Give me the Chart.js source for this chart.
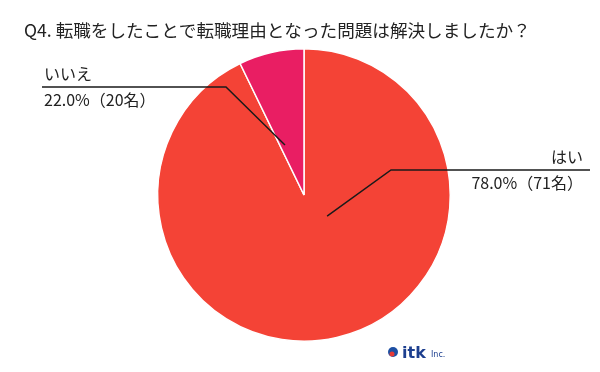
<!DOCTYPE html>
<html>
<head>
<meta charset="utf-8">
<script src="https://cdn.jsdelivr.net/npm/chart.js@4.4.1/dist/chart.umd.min.js"></script>
<style>
  html, body { margin: 0; padding: 0; background: #fff; }
  #wrap { width: 600px; height: 372px; }
</style>
</head>
<body>
<div id="wrap"><canvas id="pie-chart" width="600" height="372"></canvas></div>
<script>
var titleText = 'Q4. 転職をしたことで転職理由となった問題は解決しましたか？';
var categories = ['はい', 'いいえ'];
var counts = [71, 20];
var percents = [78.0, 22.0];
// arc sizes as they are drawn in the picture (they don't follow the labels)
var sliceShares = [92.8, 7.2];
var sliceColors = ['#F44336', '#E91E63'];

var jpFont = '"Noto Sans CJK JP", "Noto Sans", sans-serif';

// leader line: anchor inside the slice (fraction of radius from centre), bend point, end of the shelf
var leaders = [
    { ax: 0.158, ay: 0.144, bx: 391, by: 170, ex: 590, textX: 583, align: 'right' },
    { ax: -0.13, ay: -0.342, bx: 226, by: 87, ex: 42, textX: 44, align: 'left' }
];

var labelPlugin = {
    id: 'labelPlugin',
    afterDraw: function (chart) {
        var ctx = chart.ctx;
        ctx.save();

        // title
        ctx.fillStyle = '#222';
        ctx.font = '17.6px ' + jpFont;
        ctx.textAlign = 'left';
        ctx.textBaseline = 'middle';
        ctx.fillText(titleText, 24, 30);

        var meta = chart.getDatasetMeta(0);
        meta.data.forEach(function (arc, i) {
            var l = leaders[i];
            var r = arc.outerRadius;
            var sx = arc.x + l.ax * r;
            var sy = arc.y + l.ay * r;

            ctx.strokeStyle = '#1a1a1a';
            ctx.lineWidth = 1.5;
            ctx.beginPath();
            ctx.moveTo(sx, sy);
            ctx.lineTo(l.bx, l.by);
            ctx.lineTo(l.ex, l.by);
            ctx.stroke();

            ctx.fillStyle = '#222';
            ctx.font = '16px ' + jpFont;
            ctx.textAlign = l.align;
            ctx.fillText(categories[i], l.textX, l.by - 13);
            ctx.fillText(percents[i].toFixed(1) + '%（' + counts[i] + '名）', l.textX, l.by + 13);
        });

        // logo
        ctx.fillStyle = '#1d4fa3';
        ctx.beginPath();
        ctx.arc(393, 352, 5, 0, Math.PI * 2);
        ctx.fill();
        ctx.fillStyle = '#e53935';
        ctx.beginPath();
        ctx.arc(392, 354, 2.5, 0, Math.PI * 2);
        ctx.fill();
        ctx.fillStyle = '#1d3f8f';
        ctx.font = 'bold 16px "DejaVu Sans", sans-serif';
        ctx.textAlign = 'left';
        ctx.textBaseline = 'alphabetic';
        ctx.fillText('itk', 402, 358);
        ctx.font = '8px "DejaVu Sans", sans-serif';
        ctx.fillText('Inc.', 431, 357);

        ctx.restore();
    }
};

var pieConfig = {
    type: 'pie',
    data: {
        labels: categories,
        datasets: [{
            data: sliceShares,
            backgroundColor: sliceColors,
            borderColor: '#ffffff',
            borderWidth: 1.5
        }]
    },
    options: {
        responsive: false,
        devicePixelRatio: 1,
        animation: false,
        layout: {
            padding: { left: 157, right: 149, top: 47, bottom: 29 }
        },
        plugins: {
            legend: { display: false },
            tooltip: { enabled: false },
            title: { display: false }
        },
        events: []
    },
    plugins: [labelPlugin]
};

var pieContext = document.getElementById('pie-chart').getContext('2d');
window.myPie = new Chart(pieContext, pieConfig);
</script>
</body>
</html>
